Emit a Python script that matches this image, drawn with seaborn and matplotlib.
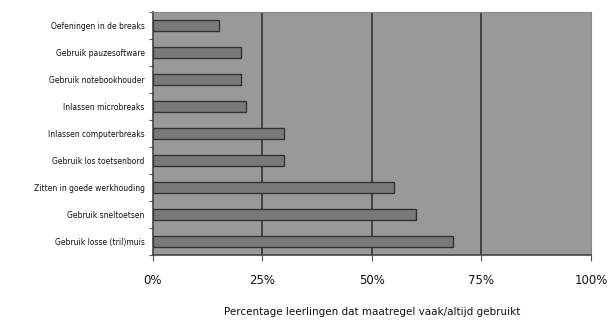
import numpy as np
import pandas as pd
import matplotlib
matplotlib.use("Agg")
import matplotlib.pyplot as plt
import seaborn as sns
from matplotlib.ticker import FixedLocator

maatregelen = ["Oefeningen in de breaks", "Gebruik pauzesoftware", "Gebruik notebookhouder",
               "Inlassen microbreaks", "Inlassen computerbreaks", "Gebruik los toetsenbord",
               "Zitten in goede werkhouding", "Gebruik sneltoetsen", "Gebruik losse (tril)muis"]
percentages = [15.0, 20.2, 20.2, 21.2, 30.0, 30.0, 55.0, 60.0, 68.4]
xticks = [0, 25, 50, 75, 100]
xticklabels = ["0%", "25%", "50%", "75%", "100%"]

df = pd.DataFrame({"maatregel": maatregelen, "pct": percentages})

sns.set_style("white")
plt.rcParams["font.family"] = ["DejaVu Sans"]

fig = plt.figure(figsize=(6.08, 3.22), dpi=100)
ax = fig.add_axes([0.2516, 0.208, 0.7204, 0.755])
ax.set_facecolor("#999999")

# verticale hulplijnen achter de balken
for x in xticks[1:-1]:
    ax.axvline(x, color="#333333", lw=1.2, zorder=0.5)

sns.barplot(data=df, x="pct", y="maatregel", orient="h", color="#797979",
            saturation=1, width=0.42, edgecolor="#333333", linewidth=1.0, ax=ax)
for p in ax.patches:
    p.set_zorder(2)

ax.set_xlim(0, 100)
ax.set_ylim(len(maatregelen) - 0.5, -0.5)
ax.set_xticks(xticks)
ax.set_xticklabels(xticklabels, fontsize=8.5, color="#111111")

ax.tick_params(axis="y", which="major", length=0, labelsize=5.5, pad=6, labelcolor="#111111")
ax.yaxis.set_minor_locator(FixedLocator(np.arange(-0.5, len(maatregelen), 1)))
ax.tick_params(axis="y", which="minor", length=3, color="#555555", width=0.8, direction="out")
ax.tick_params(axis="x", length=4, color="#555555", width=0.8, direction="out", pad=10)
ax.xaxis.set_ticks_position("bottom")
ax.yaxis.set_ticks_position("left")

for side in ["left", "bottom"]:
    ax.spines[side].set_color("#444444")
    ax.spines[side].set_linewidth(1.2)
for side in ["top", "right"]:
    ax.spines[side].set_color("#888888")
    ax.spines[side].set_linewidth(0.8)

ax.set_ylabel("")
ax.set_xlabel("Percentage leerlingen dat maatregel vaak/altijd gebruikt", fontsize=7.5,
              labelpad=14, color="#111111")

fig.savefig("out.png", dpi=100, facecolor="white")
